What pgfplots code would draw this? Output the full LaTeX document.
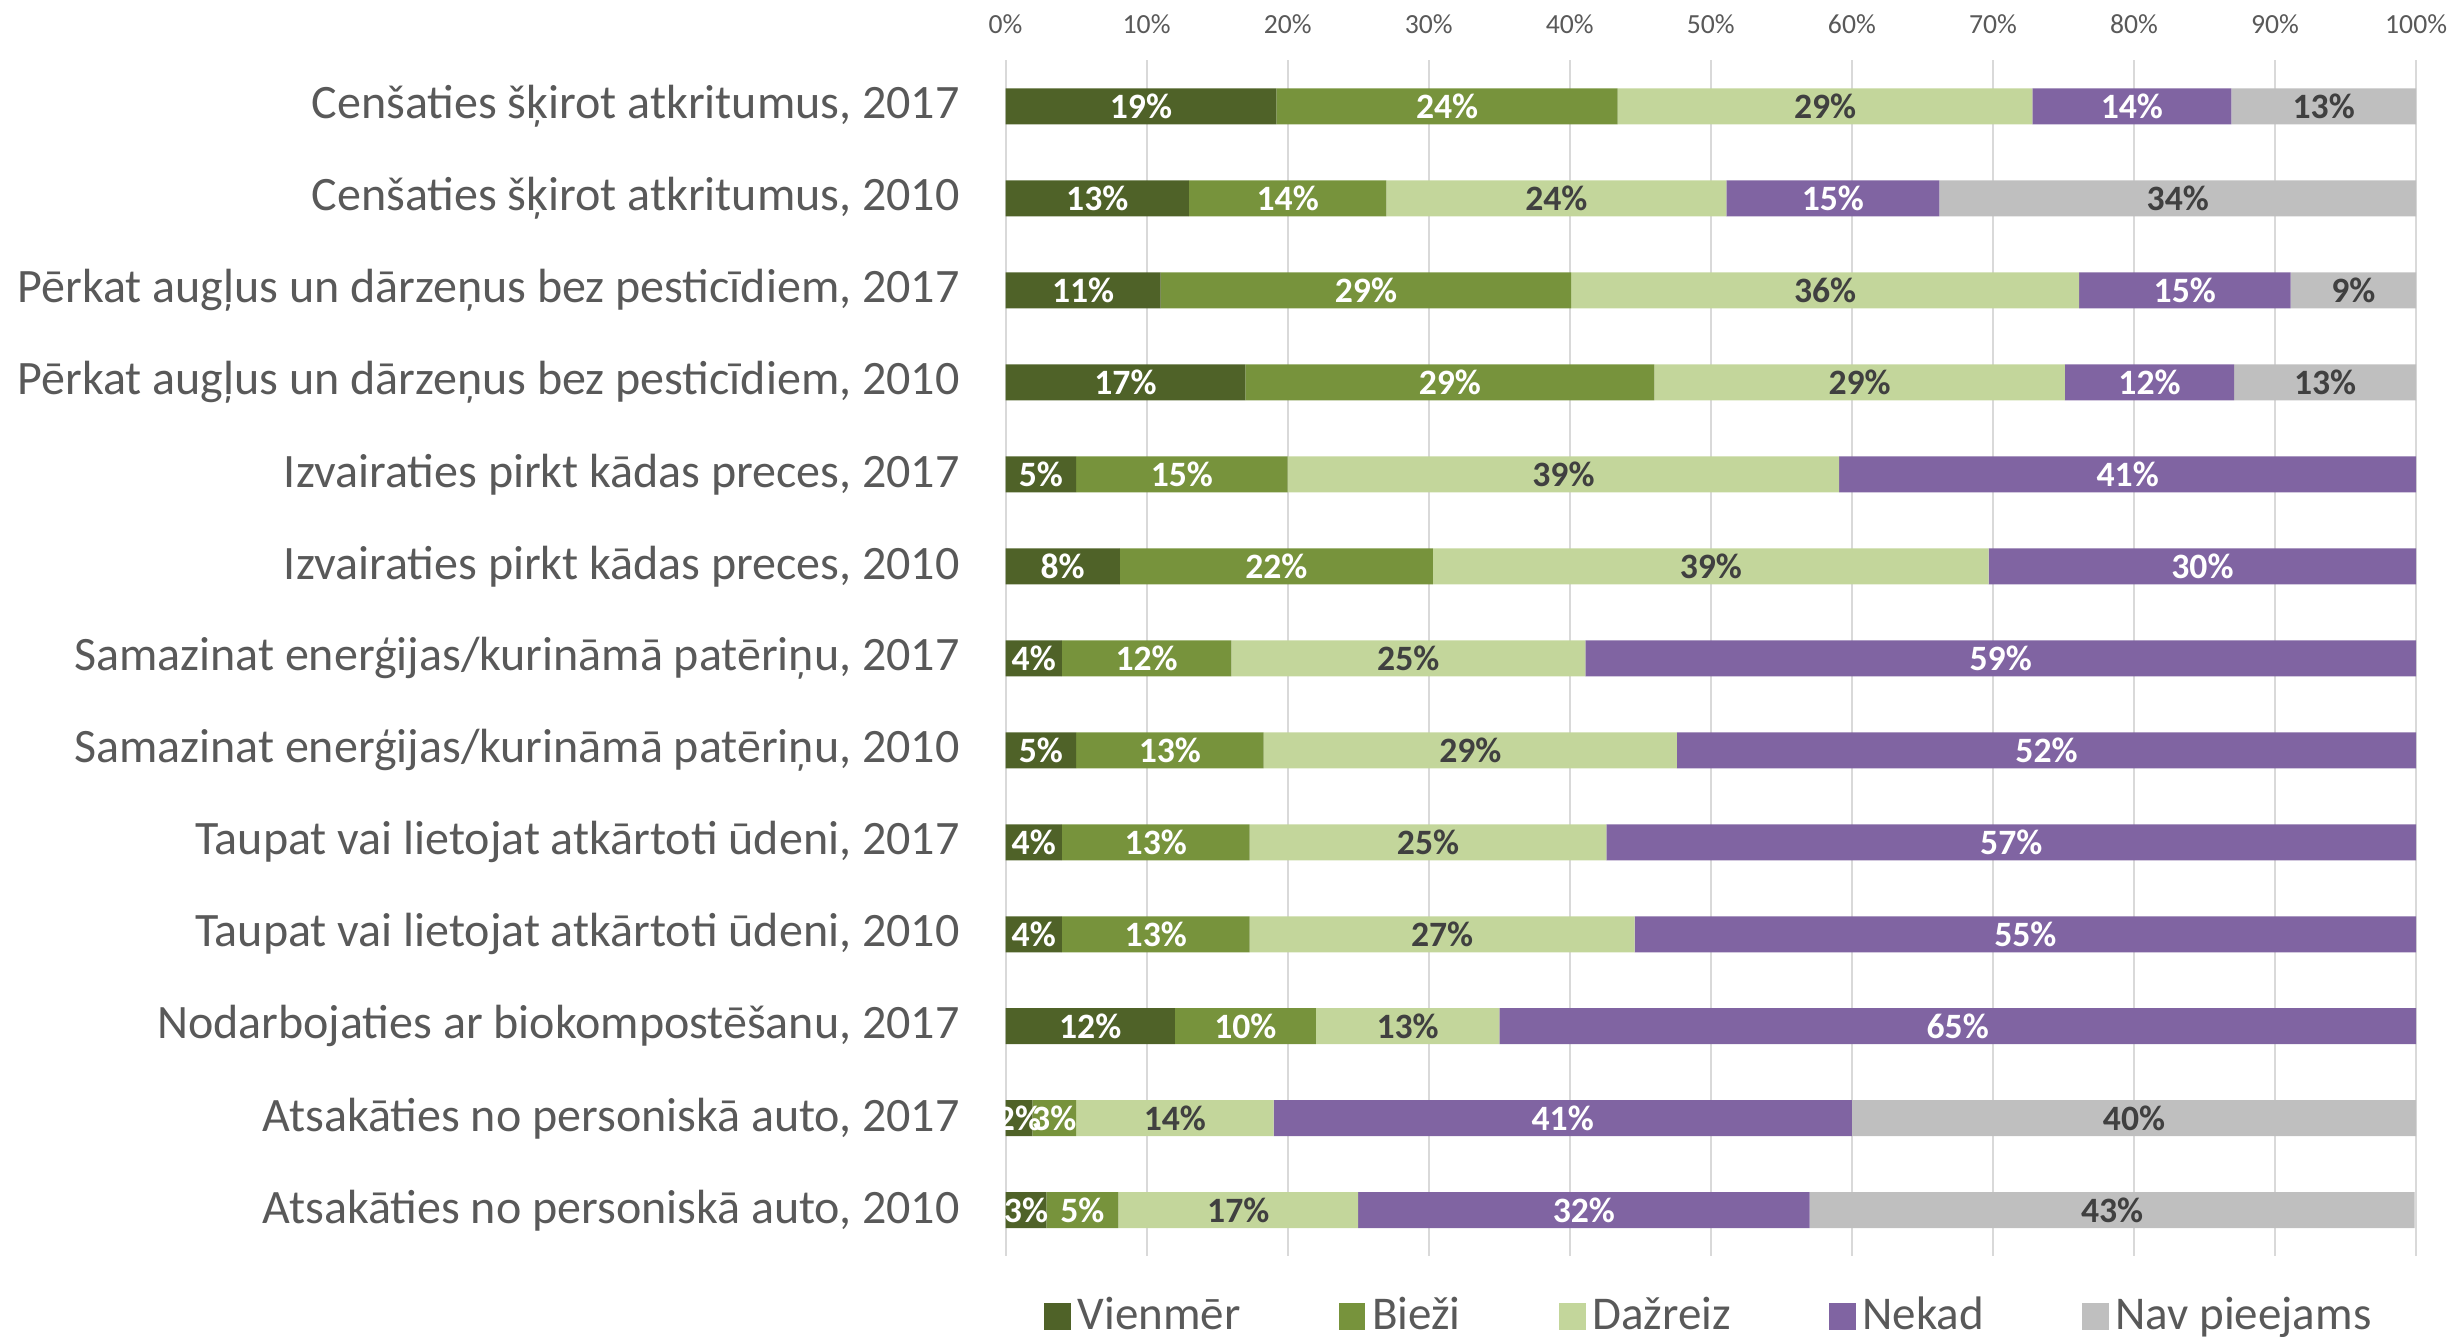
\documentclass[border=0pt]{standalone}
\usepackage{pgfplots}
\pgfplotsset{compat=1.18}
\usepackage{pgfplotstable}
\usepackage{fontspec}
\setmainfont{Carlito}
\definecolor{cV}{HTML}{4F6228}
\definecolor{cB}{HTML}{77933C}
\definecolor{cD}{HTML}{C3D69B}
\definecolor{cN}{HTML}{8064A2}
\definecolor{cX}{HTML}{BFBFBF}
\definecolor{cTxt}{HTML}{595959}
\definecolor{cDark}{HTML}{404040}
\definecolor{cGrid}{HTML}{D9D9D9}

\pgfplotstableread{
row V B D N X
0 19.2 24.2 29.4 14.1 13.1
1 13.0 14.0 24.1 15.1 33.8
2 11.0 29.1 36.0 15.0 8.9
3 17.0 29.0 29.1 12.0 12.9
4 5.0 15.0 39.1 40.9 0
5 8.1 22.2 39.4 30.3 0
6 4.0 12.0 25.1 58.9 0
7 5.0 13.3 29.3 52.4 0
8 4.0 13.3 25.3 57.4 0
9 4.0 13.3 27.3 55.4 0
10 12.0 10.0 13.0 65.0 0
11 1.9 3.1 14.0 41.0 40.0
12 2.9 5.1 17.0 32.0 42.9
}\data

\pgfplotsset{
  lbl/.style={
    nodes near coords={\pgfmathfloatifflags{\pgfplotspointmeta}{0}{}{\pgfmathprintnumber[fixed,precision=0]{\pgfplotspointmeta}\%}},
    /pgfplots/every node near coord/.style={
      font=\bfseries\fontsize{10.7}{12}\selectfont, text=#1, anchor=center, inner sep=0pt
    }
  }
}

\begin{document}
\begin{tikzpicture}
\useasboundingbox (-301.74pt,-23.97pt) rectangle (435.22pt,376.94pt);
\begin{axis}[
  at={(0,0)}, anchor=south west,
  scale only axis, width=423.47pt, height=358.8pt,
  xbar stacked, bar width=10.8pt,
  xmin=0, xmax=100.05, ymin=-0.5, ymax=12.5, y dir=reverse,
  point meta=explicit,
  xtick={0,10,...,100},
  xticklabel={\pgfmathprintnumber{\tick}\%},
  /pgf/number format/assume math mode=true,
  xticklabel pos=upper,
  xticklabel style={font=\fontsize{8.3}{10}\selectfont, text=cTxt, anchor=base, inner sep=0pt, yshift=8.1pt},
  ytick={0,...,12},
  yticklabels={{Cenšaties šķirot atkritumus, 2017},{Cenšaties šķirot atkritumus, 2010},{Pērkat augļus un dārzeņus bez pesticīdiem, 2017},{Pērkat augļus un dārzeņus bez pesticīdiem, 2010},{Izvairaties pirkt kādas preces, 2017},{Izvairaties pirkt kādas preces, 2010},{Samazinat enerģijas/kurināmā patēriņu, 2017},{Samazinat enerģijas/kurināmā patēriņu, 2010},{Taupat vai lietojat atkārtoti ūdeni, 2017},{Taupat vai lietojat atkārtoti ūdeni, 2010},{Nodarbojaties ar biokompostēšanu, 2017},{Atsakāties no personiskā auto, 2017},{Atsakāties no personiskā auto, 2010}},
  yticklabel style={font=\fontsize{14.4}{16}\selectfont, text=cTxt, anchor=east, inner sep=0pt, xshift=-13.6pt},
  xmajorgrids, grid style={color=cGrid, line width=0.6pt},
  axis line style={draw=none}, major tick length=0pt,
  legend columns=5,
  legend style={draw=none, fill=none, at={(0.5,0)}, anchor=center, yshift=-18pt,
    font=\fontsize{14.1}{16}\selectfont, text=cTxt,
    /tikz/every even column/.append style={column sep=27.5pt}},
  legend image code/.code={\fill[#1] (0pt,-4pt) rectangle (8pt,4pt);},
]
\addplot[fill=cV, draw=none, lbl=white] table[x=V, y=row, meta=V] {\data};
\addplot[fill=cB, draw=none, lbl=white] table[x=B, y=row, meta=B] {\data};
\addplot[fill=cD, draw=none, lbl=cDark] table[x=D, y=row, meta=D] {\data};
\addplot[fill=cN, draw=none, lbl=white] table[x=N, y=row, meta=N] {\data};
\addplot[fill=cX, draw=none, lbl=cDark] table[x=X, y=row, meta=X] {\data};
\legend{Vienmēr, Bieži, Dažreiz, Nekad, Nav pieejams}
\end{axis}
\end{tikzpicture}
\end{document}
